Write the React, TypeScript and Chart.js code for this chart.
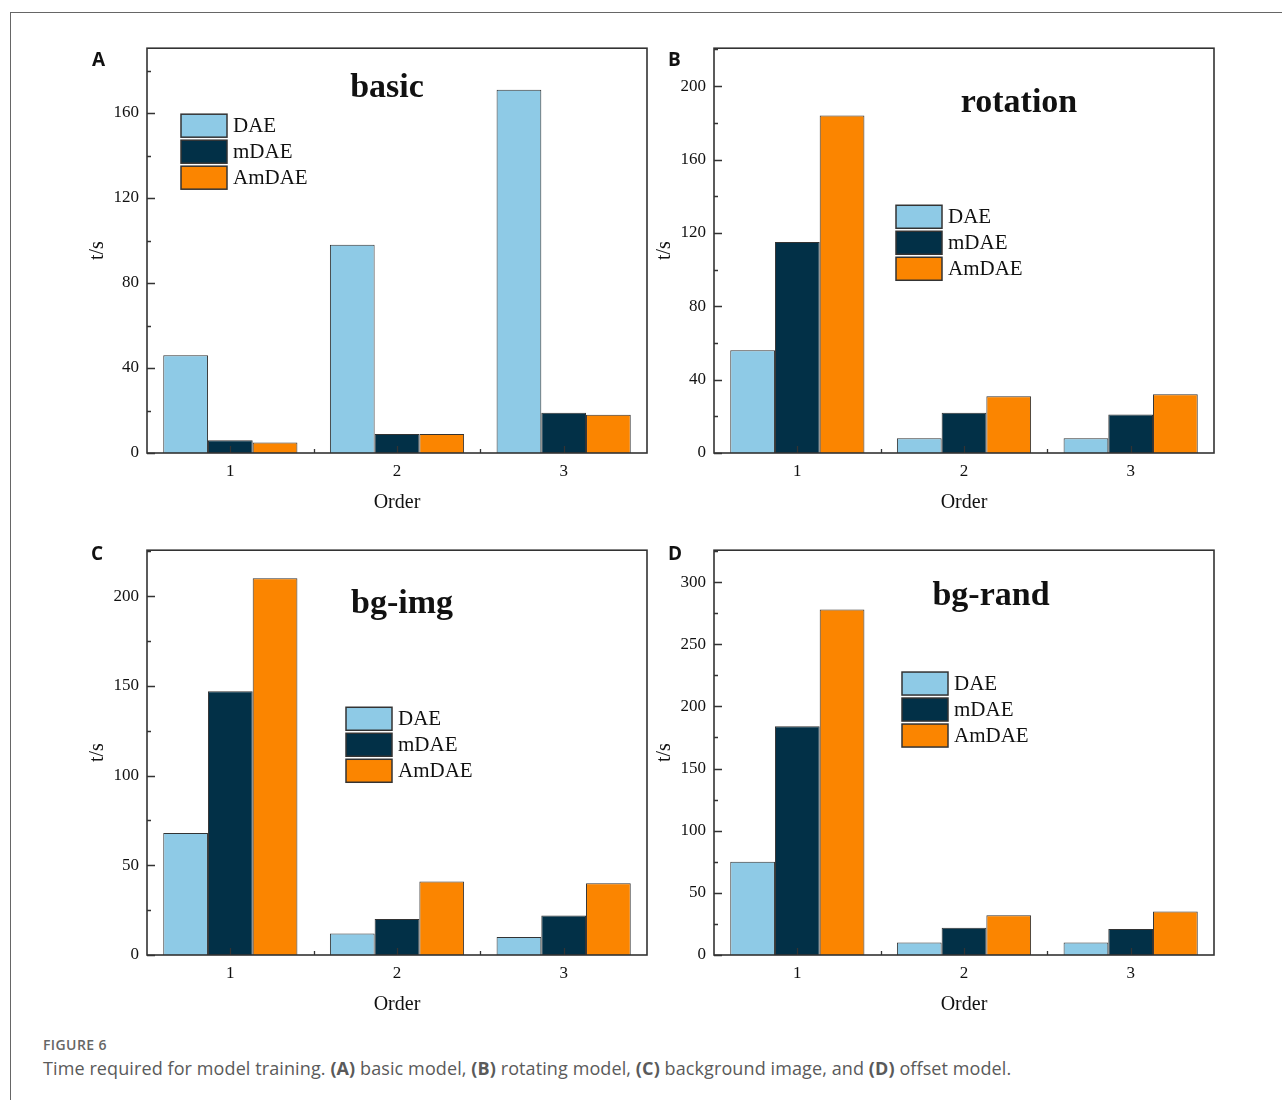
import React, { useEffect, useRef } from "react";
import { Chart, registerables } from "chart.js";

Chart.register(...registerables);

// ---------- data ----------
const categories = ["1", "2", "3"];
const seriesNames = ["DAE", "mDAE", "AmDAE"];

const basicDAE = [46, 98, 171];
const basicMDAE = [6, 9, 19];
const basicAmDAE = [5, 9, 18];

const rotationDAE = [56, 8, 8];
const rotationMDAE = [115, 22, 21];
const rotationAmDAE = [184, 31, 32];

const bgImgDAE = [68, 12, 10];
const bgImgMDAE = [147, 20, 22];
const bgImgAmDAE = [210, 41, 40];

const bgRandDAE = [75, 10, 10];
const bgRandMDAE = [184, 22, 21];
const bgRandAmDAE = [278, 32, 35];

const yTicksBasic = [0, 40, 80, 120, 160];
const yTicksRotation = [0, 40, 80, 120, 160, 200];
const yTicksBgImg = [0, 50, 100, 150, 200];
const yTicksBgRand = [0, 50, 100, 150, 200, 250, 300];

// ---------- styles ----------
const COLORS = ["#8ECAE6", "#023047", "#FB8500"];
const SERIF = "'Liberation Serif', 'Times New Roman', serif";

type Panel = {
  letter: string;
  title: string;
  series: number[][];
  yTicks: number[];
  yMax: number;
  left: number;
  top: number;
  titlePos: [number, number];
  legendPos: [number, number];
  letterPos: [number, number];
};

const panels: Panel[] = [
  {
    letter: "A", title: "basic", series: [basicDAE, basicMDAE, basicAmDAE],
    yTicks: yTicksBasic, yMax: 190.5, left: 60, top: 30,
    titlePos: [0.48, 0.099], legendPos: [0.068, 0.163], letterPos: [92, 48],
  },
  {
    letter: "B", title: "rotation", series: [rotationDAE, rotationMDAE, rotationAmDAE],
    yTicks: yTicksRotation, yMax: 220.7, left: 627, top: 30,
    titlePos: [0.61, 0.136], legendPos: [0.364, 0.388], letterPos: [668, 48],
  },
  {
    letter: "C", title: "bg-img", series: [bgImgDAE, bgImgMDAE, bgImgAmDAE],
    yTicks: yTicksBgImg, yMax: 225.6, left: 60, top: 532,
    titlePos: [0.51, 0.133], legendPos: [0.398, 0.388], letterPos: [91, 542],
  },
  {
    letter: "D", title: "bg-rand", series: [bgRandDAE, bgRandMDAE, bgRandAmDAE],
    yTicks: yTicksBgRand, yMax: 325.7, left: 627, top: 532,
    titlePos: [0.554, 0.114], legendPos: [0.376, 0.301], letterPos: [668, 542],
  },
];

const CANVAS_W = 610;
const CANVAS_H = 500;
const AREA_LEFT = 87;
const AREA_TOP = 18;
const AREA_W = 500;
const AREA_H = 405;

function PanelChart({ p }: { p: Panel }) {
  const ref = useRef<HTMLCanvasElement | null>(null);
  useEffect(() => {
    if (!ref.current) return;
    const step = p.yTicks[1] - p.yTicks[0];
    const decor = {
      id: "decor",
      afterDatasetsDraw(chart: any) {
        const ctx = chart.ctx;
        const a = chart.chartArea;
        const ys = chart.scales.y;
        const xs = chart.scales.x;
        ctx.save();
        // frame
        ctx.strokeStyle = "#333";
        ctx.lineWidth = 1.6;
        ctx.strokeRect(a.left, a.top, a.right - a.left, a.bottom - a.top);
        // y ticks (inward)
        ctx.lineWidth = 1.3;
        ctx.beginPath();
        for (let v = 0; v < p.yMax; v += step / 2) {
          const y = Math.round(ys.getPixelForValue(v)) + 0.5;
          const major = Math.abs((v / step) - Math.round(v / step)) < 1e-6;
          const len = major ? 8 : 4;
          ctx.moveTo(a.left, y);
          ctx.lineTo(a.left + len, y);
        }
        // x ticks (inward)
        for (let i = 0; i < categories.length; i++) {
          const x = Math.round(xs.getPixelForValue(i)) + 0.5;
          ctx.moveTo(x, a.bottom);
          ctx.lineTo(x, a.bottom - 7);
          if (i < categories.length - 1) {
            const xm = Math.round((xs.getPixelForValue(i) + xs.getPixelForValue(i + 1)) / 2) + 0.5;
            ctx.moveTo(xm, a.bottom);
            ctx.lineTo(xm, a.bottom - 4);
          }
        }
        ctx.stroke();
        // title
        const w = a.right - a.left;
        const h = a.bottom - a.top;
        ctx.fillStyle = "#111";
        ctx.font = `bold 34px ${SERIF}`;
        ctx.textAlign = "center";
        ctx.textBaseline = "middle";
        ctx.fillText(p.title, a.left + p.titlePos[0] * w, a.top + p.titlePos[1] * h);
        // legend
        const lx = a.left + p.legendPos[0] * w;
        const ly = a.top + p.legendPos[1] * h;
        ctx.font = `21px ${SERIF}`;
        ctx.textAlign = "left";
        seriesNames.forEach((name, i) => {
          const by = ly + i * 26;
          ctx.fillStyle = COLORS[i];
          ctx.fillRect(lx, by, 46, 23);
          ctx.strokeStyle = "#333";
          ctx.lineWidth = 1.5;
          ctx.strokeRect(lx, by, 46, 23);
          ctx.fillStyle = "#111";
          ctx.fillText(name, lx + 52, by + 12.5);
        });
        // axis titles
        ctx.font = `20px ${SERIF}`;
        ctx.textAlign = "center";
        ctx.fillText("Order", a.left + w / 2, a.bottom + 50);
        ctx.save();
        ctx.translate(a.left - 49, a.top + h / 2);
        ctx.rotate(-Math.PI / 2);
        ctx.fillText("t/s", 0, 0);
        ctx.restore();
        ctx.restore();
      },
    };
    const chart = new Chart(ref.current, {
      type: "bar",
      data: {
        labels: categories,
        datasets: seriesNames.map((name, i) => ({
          label: name,
          data: p.series[i],
          backgroundColor: COLORS[i],
          borderColor: "#333",
          borderWidth: 1,
          categoryPercentage: 0.805,
          barPercentage: 1.0,
        })),
      },
      options: {
        animation: false,
        responsive: false,
        maintainAspectRatio: false,
        layout: { padding: { top: AREA_TOP, right: CANVAS_W - AREA_LEFT - AREA_W, left: 0, bottom: 0 } },
        plugins: { legend: { display: false }, tooltip: { enabled: false }, title: { display: false } },
        scales: {
          x: {
            type: "category",
            grid: { display: false, drawTicks: false },
            border: { display: false },
            ticks: { color: "#111", padding: 8, font: { family: SERIF, size: 17 } },
            afterFit: (s: any) => { s.height = CANVAS_H - AREA_TOP - AREA_H; },
          },
          y: {
            min: 0,
            max: p.yMax,
            grid: { display: false, drawTicks: false },
            border: { display: false },
            ticks: {
              stepSize: p.yTicks[1] - p.yTicks[0],
              includeBounds: false,
              color: "#111",
              padding: 8,
              font: { family: SERIF, size: 17 },
              callback: (v: any) => (p.yTicks.includes(Number(v)) ? String(v) : ""),
            },
            afterFit: (s: any) => { s.width = AREA_LEFT; },
          },
        },
      },
      plugins: [decor],
    } as any);
    return () => chart.destroy();
  }, [p]);
  return (
    <>
      <canvas
        ref={ref}
        width={CANVAS_W}
        height={CANVAS_H}
        style={{ position: "absolute", left: p.left, top: p.top, width: CANVAS_W, height: CANVAS_H }}
      />
      <div
        style={{
          position: "absolute", left: p.letterPos[0], top: p.letterPos[1],
          fontFamily: "'Open Sans', 'Noto Sans', sans-serif", fontWeight: 700, fontSize: 19,
          lineHeight: "22px", color: "#111",
        }}
      >
        {p.letter}
      </div>
    </>
  );
}

export default function App() {
  return (
    <div
      style={{
        position: "absolute", left: 0, top: 0, width: 1282, height: 1100,
        overflow: "hidden", background: "#fff",
      }}
    >
      <div
        style={{
          position: "absolute", left: 10, top: 12, width: 1300, height: 1120,
          borderTop: "1px solid #666", borderLeft: "1px solid #666",
        }}
      />
      {panels.map((p) => (
        <PanelChart key={p.letter} p={p} />
      ))}
      <div
        style={{
          position: "absolute", left: 43, top: 1037, fontFamily: "'Open Sans', sans-serif",
          fontSize: 14, fontWeight: 600, color: "#666", lineHeight: "16px", letterSpacing: "0.4px",
        }}
      >
        FIGURE 6
      </div>
      <div
        style={{
          position: "absolute", left: 43, top: 1057, fontFamily: "'Open Sans', sans-serif",
          fontSize: 18, color: "#5a5a5a", lineHeight: "22px", whiteSpace: "nowrap",
          letterSpacing: "0.1px",
        }}
      >
        Time required for model training. <b>(A)</b> basic model, <b>(B)</b> rotating model,{" "}
        <b>(C)</b> background image, and <b>(D)</b> offset model.
      </div>
    </div>
  );
}
